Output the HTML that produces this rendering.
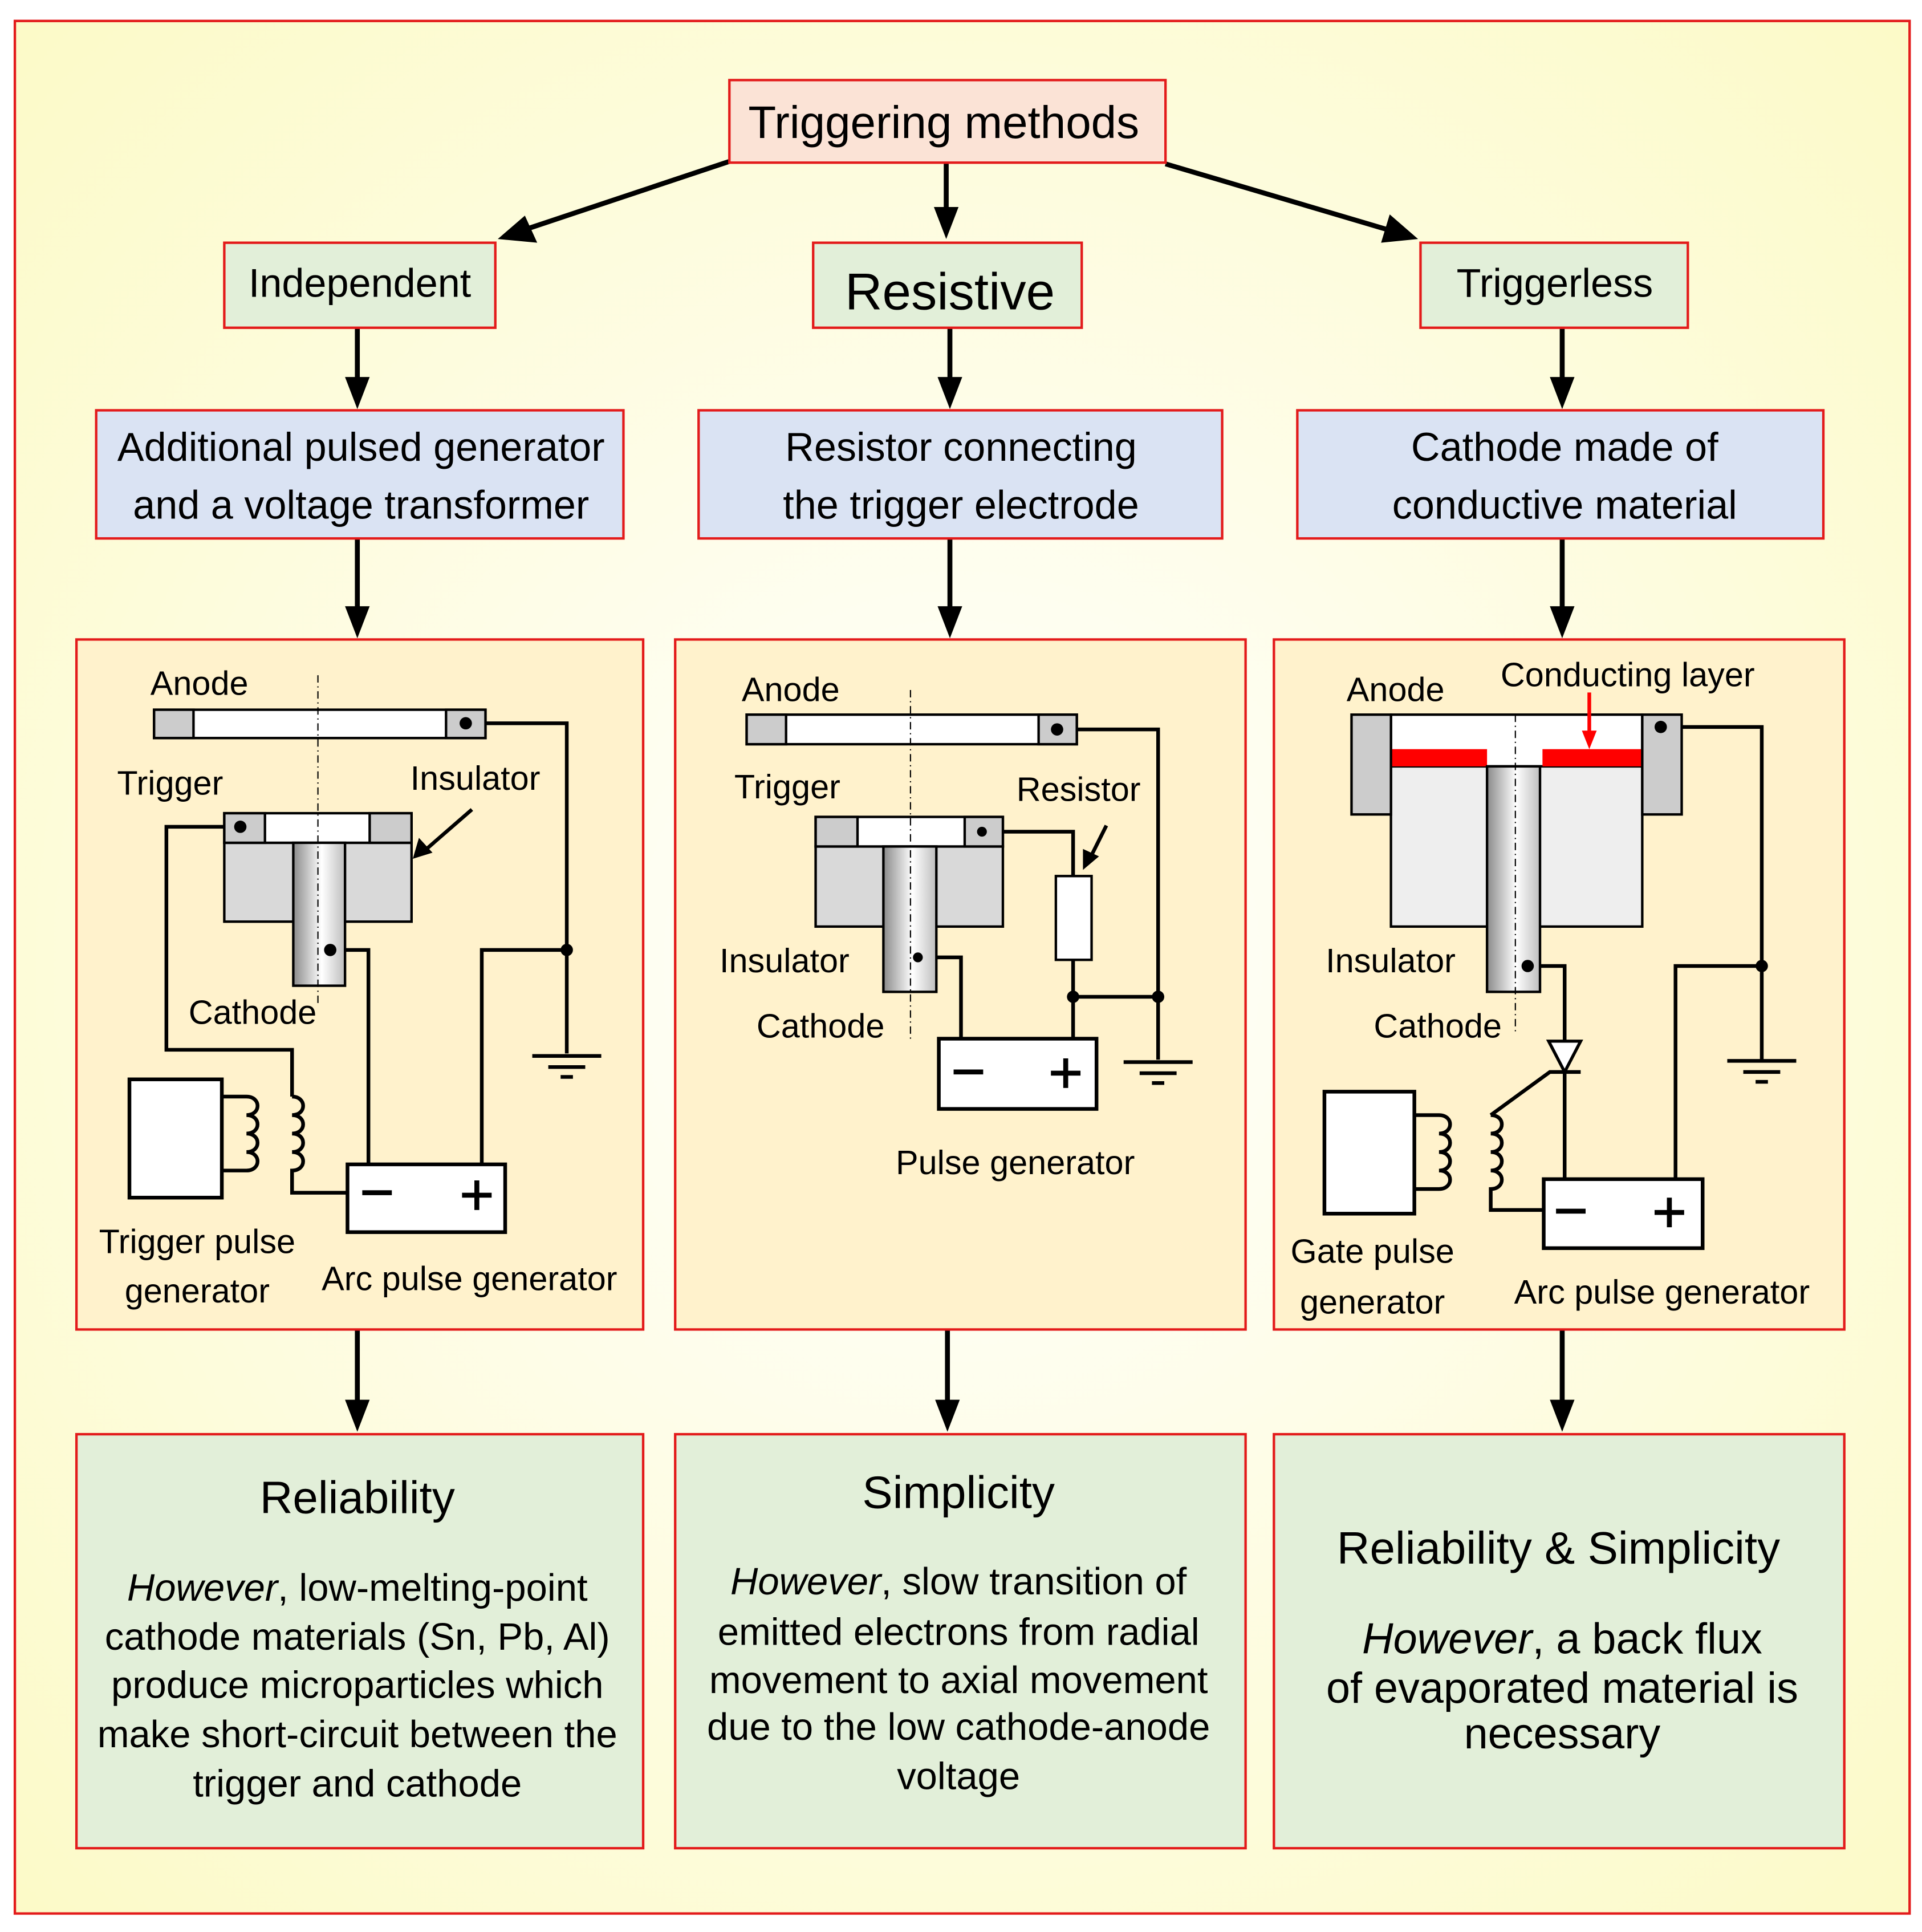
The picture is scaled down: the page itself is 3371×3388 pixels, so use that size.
<!DOCTYPE html>
<html><head><meta charset="utf-8"><style>
html,body{margin:0;padding:0;background:#fff}
svg{display:block}
text{font-family:"Liberation Sans",sans-serif;fill:#000}
</style></head><body>
<svg width="3371" height="3388" viewBox="0 0 1560 1568" xmlns="http://www.w3.org/2000/svg">
<defs>
<radialGradient id="bg" cx="50%" cy="50%" r="70%">
<stop offset="0" stop-color="#ffffff"/><stop offset="1" stop-color="#fcfac8"/></radialGradient>
<linearGradient id="rod" x1="0" x2="1" y1="0" y2="0">
<stop offset="0" stop-color="#8a8a8a"/><stop offset="0.55" stop-color="#ffffff"/><stop offset="1" stop-color="#bdbdbd"/></linearGradient>
</defs>
<rect x="0" y="0" width="1560" height="1568" fill="#fff"/>
<rect x="12" y="17" width="1538" height="1536" fill="url(#bg)" stroke="#e31b1b" stroke-width="2"/>

<g stroke="#000" stroke-width="4" fill="none">
<line x1="592" y1="131" x2="430" y2="185"/><path d="M404,194 L426,175 L436,197 z" fill="#000" stroke="none"/>
<line x1="768" y1="132" x2="768" y2="170"/><path d="M758,168 L778,168 L768,194 z" fill="#000" stroke="none"/>
<line x1="946" y1="133" x2="1125" y2="186"/><path d="M1151,194 L1121,197 L1128,174 z" fill="#000" stroke="none"/>
</g>
<g fill="#000">
<rect x="288" y="266" width="4" height="44"/><path d="M280,306 L300,306 L290,332 z"/>
<rect x="769" y="266" width="4" height="44"/><path d="M761,306 L781,306 L771,332 z"/>
<rect x="1266" y="266" width="4" height="44"/><path d="M1258,306 L1278,306 L1268,332 z"/>
<rect x="288" y="437" width="4" height="58"/><path d="M280,492 L300,492 L290,518 z"/>
<rect x="769" y="437" width="4" height="58"/><path d="M761,492 L781,492 L771,518 z"/>
<rect x="1266" y="437" width="4" height="58"/><path d="M1258,492 L1278,492 L1268,518 z"/>
<rect x="288" y="1079" width="4" height="60"/><path d="M280,1136 L300,1136 L290,1162 z"/>
<rect x="767" y="1079" width="4" height="60"/><path d="M759,1136 L779,1136 L769,1162 z"/>
<rect x="1266" y="1079" width="4" height="60"/><path d="M1258,1136 L1278,1136 L1268,1162 z"/>
</g>

<g stroke="#e31b1b" stroke-width="2">
<rect x="592" y="65" width="354" height="67" fill="#fbe3d6"/>
<rect x="182" y="197" width="220" height="69" fill="#e2efd9"/>
<rect x="660" y="197" width="218" height="69" fill="#e2efd9"/>
<rect x="1153" y="197" width="217" height="69" fill="#e2efd9"/>
<rect x="78" y="333" width="428" height="104" fill="#dae3f3"/>
<rect x="567" y="333" width="425" height="104" fill="#dae3f3"/>
<rect x="1053" y="333" width="427" height="104" fill="#dae3f3"/>
<rect x="62" y="519" width="460" height="560" fill="#fff2cc"/>
<rect x="548" y="519" width="463" height="560" fill="#fff2cc"/>
<rect x="1034" y="519" width="463" height="560" fill="#fff2cc"/>
<rect x="62" y="1164" width="460" height="336" fill="#e2efd9"/>
<rect x="548" y="1164" width="463" height="336" fill="#e2efd9"/>
<rect x="1034" y="1164" width="463" height="336" fill="#e2efd9"/>
</g>

<g text-anchor="middle" font-size="32.5">
<text x="766" y="112" font-size="37">Triggering methods</text>
<text x="292" y="241">Independent</text>
<text x="771" y="251" font-size="42">Resistive</text>
<text x="1262" y="241">Triggerless</text>
<text x="293" y="374">Additional pulsed generator</text>
<text x="293" y="421">and a voltage transformer</text>
<text x="780" y="374">Resistor connecting</text>
<text x="780" y="421">the trigger electrode</text>
<text x="1270" y="374">Cathode made of</text>
<text x="1270" y="421">conductive material</text>
</g>

<!-- Panel 1 -->
<g stroke="#000" stroke-width="3" fill="none">
<path d="M378,587 H460 V855"/><path d="M460,771 H391 V945"/>
<path d="M268,771 H299 V945"/>
<path d="M195,671 H135 V852 H237 V890"/>
<path d="M237,890 c12,0 12,15 0,15 c12,0 12,15 0,15 c12,0 12,15 0,15 c12,0 12,15 0,15 V968 H282"/>
<path d="M180,890 H200 c12,0 12,15 0,15 c12,0 12,15 0,15 c12,0 12,15 0,15 c12,0 12,15 0,15 H180"/>
<path d="M432,857 H488 M445,866 H475 M455,874 H465"/>
<path d="M383,657 L345,690"/>
</g>
<path d="M335,697 L340,680 L351,692 z"/>
<rect x="125" y="576" width="269" height="23" fill="#fff" stroke="#000" stroke-width="2"/>
<rect x="125" y="576" width="32" height="23" fill="#ccc" stroke="#000" stroke-width="2"/>
<rect x="362" y="576" width="32" height="23" fill="#ccc" stroke="#000" stroke-width="2"/>
<rect x="182" y="684" width="152" height="64" fill="#d9d9d9" stroke="#000" stroke-width="2"/>
<rect x="182" y="660" width="152" height="24" fill="#fff" stroke="#000" stroke-width="2"/>
<rect x="182" y="660" width="33" height="24" fill="#ccc" stroke="#000" stroke-width="2"/>
<rect x="300" y="660" width="34" height="24" fill="#ccc" stroke="#000" stroke-width="2"/>
<rect x="238" y="684" width="42" height="116" fill="url(#rod)" stroke="#000" stroke-width="2"/>
<line x1="258" y1="548" x2="258" y2="815" stroke="#000" stroke-width="1" stroke-dasharray="6,3,1,3"/>
<g fill="#000"><circle cx="378" cy="587" r="5"/><circle cx="460" cy="771" r="5"/><circle cx="268" cy="771" r="5"/><circle cx="195" cy="671" r="5"/></g>
<rect x="105" y="876" width="75" height="96" fill="#fff" stroke="#000" stroke-width="3"/>
<rect x="282" y="945" width="128" height="55" fill="#fff" stroke="#000" stroke-width="3"/>
<g stroke="#000" stroke-width="4"><path d="M294,968 H318 M375,970 H399 M387,958 V982"/></g>

<!-- Panel 2 -->
<g stroke="#000" stroke-width="3" fill="none">
<path d="M858,592 H940 V860"/><path d="M871,809 H940"/>
<path d="M745,777 H780 V843"/>
<path d="M797,675 H871 V711"/><path d="M871,779 V843"/>
<path d="M912,862 H968 M925,871 H955 M935,879 H945"/>
<path d="M898,670 L884,698"/>
</g>
<path d="M879,706 L879,689 L892,695 z"/>
<rect x="857" y="711" width="29" height="68" fill="#fff" stroke="#000" stroke-width="2"/>
<rect x="606" y="580" width="268" height="24" fill="#fff" stroke="#000" stroke-width="2"/>
<rect x="606" y="580" width="32" height="24" fill="#ccc" stroke="#000" stroke-width="2"/>
<rect x="843" y="580" width="31" height="24" fill="#ccc" stroke="#000" stroke-width="2"/>
<rect x="662" y="687" width="152" height="65" fill="#d9d9d9" stroke="#000" stroke-width="2"/>
<rect x="662" y="663" width="152" height="24" fill="#fff" stroke="#000" stroke-width="2"/>
<rect x="662" y="663" width="34" height="24" fill="#ccc" stroke="#000" stroke-width="2"/>
<rect x="783" y="663" width="31" height="24" fill="#ccc" stroke="#000" stroke-width="2"/>
<rect x="717" y="687" width="43" height="118" fill="url(#rod)" stroke="#000" stroke-width="2"/>
<line x1="739" y1="560" x2="739" y2="845" stroke="#000" stroke-width="1" stroke-dasharray="6,3,1,3"/>
<g fill="#000"><circle cx="858" cy="592" r="5"/><circle cx="940" cy="809" r="5"/><circle cx="871" cy="809" r="5"/><circle cx="745" cy="777" r="4"/><circle cx="797" cy="675" r="4"/></g>
<rect x="762" y="843" width="128" height="57" fill="#fff" stroke="#000" stroke-width="3"/>
<g stroke="#000" stroke-width="4"><path d="M774,870 H798 M853,871 H877 M865,859 V883"/></g>

<!-- Panel 3 -->
<g stroke="#000" stroke-width="3" fill="none">
<path d="M1348,590 H1430 V860"/><path d="M1430,784 H1360 V957"/>
<path d="M1240,784 H1270 V845"/><path d="M1270,870 V957"/>
<path d="M1402,861 H1458 M1415,870 H1445 M1425,878 H1435"/>
<path d="M1210,905 L1258,870 H1283"/>
<path d="M1210,905 c12,0 12,15 0,15 c12,0 12,15 0,15 c12,0 12,15 0,15 c12,0 12,15 0,15 V982 H1253"/>
<path d="M1148,905 H1168 c12,0 12,15 0,15 c12,0 12,15 0,15 c12,0 12,15 0,15 c12,0 12,15 0,15 H1148"/>
</g>
<path d="M1257,845 H1283 L1270,870 z" fill="#fff" stroke="#000" stroke-width="2.5"/>
<rect x="1129" y="580" width="204" height="42" fill="#fff" stroke="#000" stroke-width="2"/>
<rect x="1129" y="622" width="204" height="130" fill="#eee" stroke="#000" stroke-width="2"/>
<rect x="1129" y="608" width="78" height="14" fill="#f00"/>
<rect x="1252" y="608" width="81" height="14" fill="#f00"/>
<rect x="1097" y="580" width="32" height="81" fill="#ccc" stroke="#000" stroke-width="2"/>
<rect x="1333" y="580" width="32" height="81" fill="#ccc" stroke="#000" stroke-width="2"/>
<rect x="1207" y="622" width="43" height="183" fill="url(#rod)" stroke="#000" stroke-width="2"/>
<line x1="1230" y1="580" x2="1230" y2="840" stroke="#000" stroke-width="1" stroke-dasharray="6,3,1,3"/>
<line x1="1290" y1="562" x2="1290" y2="595" stroke="#f00" stroke-width="3"/>
<path d="M1284,593 L1296,593 L1290,608 z" fill="#f00"/>
<g fill="#000"><circle cx="1348" cy="590" r="5"/><circle cx="1430" cy="784" r="5"/><circle cx="1240" cy="784" r="5"/></g>
<rect x="1075" y="886" width="73" height="99" fill="#fff" stroke="#000" stroke-width="3"/>
<rect x="1253" y="957" width="129" height="56" fill="#fff" stroke="#000" stroke-width="3"/>
<g stroke="#000" stroke-width="4"><path d="M1263,983 H1287 M1343,984 H1367 M1355,972 V996"/></g>

<!-- circuit labels -->
<g font-size="27.5">
<text x="122" y="564">Anode</text>
<text x="95" y="645">Trigger</text>
<text x="333" y="641">Insulator</text>
<text x="153" y="831">Cathode</text>
<text x="160" y="1017" text-anchor="middle">Trigger pulse</text>
<text x="160" y="1057" text-anchor="middle">generator</text>
<text x="261" y="1047">Arc pulse generator</text>
<text x="602" y="569">Anode</text>
<text x="596" y="648">Trigger</text>
<text x="825" y="650">Resistor</text>
<text x="584" y="789">Insulator</text>
<text x="614" y="842">Cathode</text>
<text x="727" y="953">Pulse generator</text>
<text x="1093" y="569">Anode</text>
<text x="1218" y="557">Conducting layer</text>
<text x="1076" y="789">Insulator</text>
<text x="1115" y="842">Cathode</text>
<text x="1114" y="1025" text-anchor="middle">Gate pulse</text>
<text x="1114" y="1066" text-anchor="middle">generator</text>
<text x="1229" y="1058">Arc pulse generator</text>
</g>

<!-- bottom -->
<g text-anchor="middle" font-size="31">
<text x="290" y="1228" font-size="37">Reliability</text>
<text x="290" y="1299"><tspan font-style="italic">However</tspan>, low-melting-point</text>
<text x="290" y="1339">cathode materials (Sn, Pb, Al)</text>
<text x="290" y="1378">produce microparticles which</text>
<text x="290" y="1418">make short-circuit between the</text>
<text x="290" y="1458">trigger and cathode</text>
<text x="778" y="1224" font-size="37">Simplicity</text>
<text x="778" y="1294"><tspan font-style="italic">However</tspan>, slow transition of</text>
<text x="778" y="1335">emitted electrons from radial</text>
<text x="778" y="1374">movement to axial movement</text>
<text x="778" y="1412">due to the low cathode-anode</text>
<text x="778" y="1452">voltage</text>
<text x="1265" y="1269" font-size="37">Reliability &amp; Simplicity</text>
<text x="1268" y="1342" font-size="35">
<tspan font-style="italic">However</tspan>, a back flux</text>
<text x="1268" y="1382" font-size="35">of evaporated material is</text>
<text x="1268" y="1419" font-size="35">necessary</text>
</g>
</svg>
</body></html>
